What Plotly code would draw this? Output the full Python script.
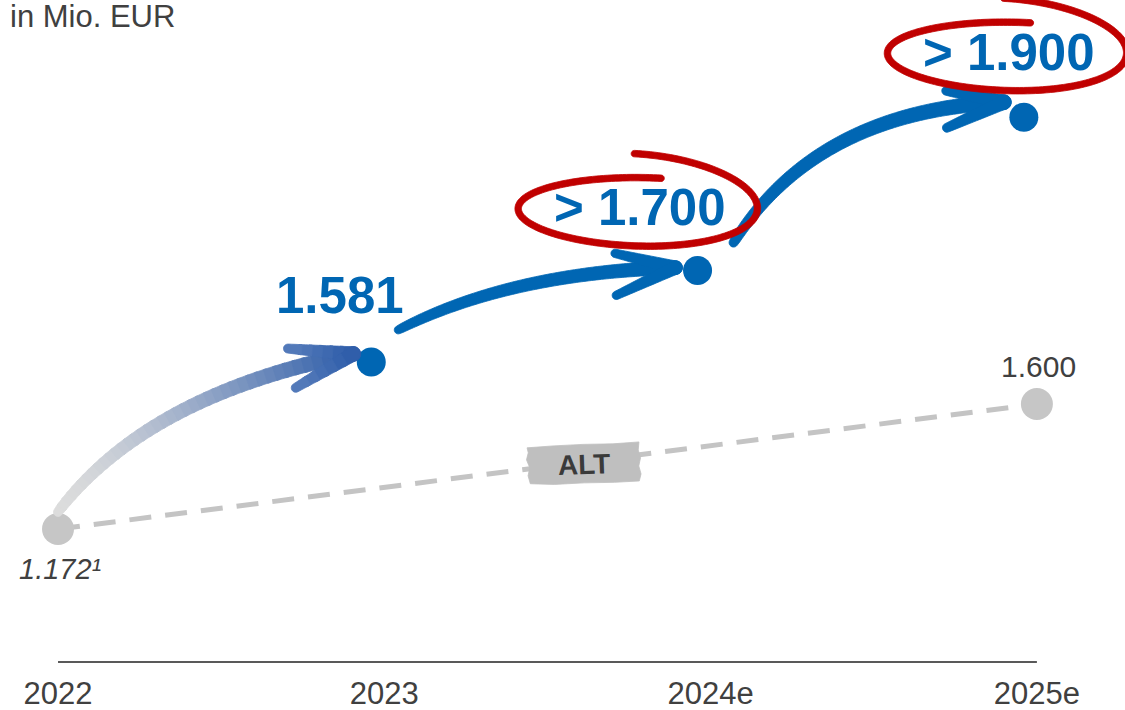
import numpy as np
import plotly.graph_objects as go

# ---- data -------------------------------------------------------------
years = ["2022", "2023", "2024e", "2025e"]

new_years = ["2023", "2024e", "2025e"]
new_values = [1581, 1700, 1900]
new_labels = ["1.581", "> 1.700", "> 1.900"]

old_years = ["2022", "2025e"]
old_values = [1172, 1600]
old_labels = ["1.172¹", "1.600"]

unit_label = "in Mio. EUR"
old_tag = "ALT"

# ---- page geometry / scales ------------------------------------------
W, H, B = 1125, 710, 48
PH = H - B
XR = [-0.1778, 3.2700]          # category index range
XR_NEW = [XR[0] + 0.04, XR[1] + 0.04]   # target markers sit a touch left of the ticks
Y_OLD = [716.6, 2983.3]         # scale for the old plan
Y_NEW = [1189.9, 2052.7]        # scale for the new targets

BLUE = "#0066b3"
RED = "#c00000"
GREY_DOT = "#c6c6c6"
TEXT = "#404040"
FONT = "Arial, Liberation Sans, sans-serif"


def px_x(cat, r=XR):
    return (years.index(cat) - r[0]) / (r[1] - r[0]) * W


def px_y(v, r):
    return PH * (1 - (v - r[0]) / (r[1] - r[0]))


def path_of(pts):
    return "M " + " L ".join(f"{x / W:.5f},{1 - y / PH:.5f}" for x, y in pts) + " Z"


def bezier(p0, p1, p2, n=120):
    t = np.linspace(0, 1, n)[:, None]
    p0, p1, p2 = map(np.asarray, (p0, p1, p2))
    return (1 - t) ** 2 * p0 + 2 * (1 - t) * t * p1 + t ** 2 * p2


def stroke(center, widths, cap_start=True, cap_end=True):
    c = np.asarray(center, float)
    w = np.asarray(widths, float)
    d = np.gradient(c, axis=0)
    d /= np.linalg.norm(d, axis=1)[:, None]
    nrm = np.stack([-d[:, 1], d[:, 0]], axis=1)
    left = c + nrm * w[:, None] / 2
    right = c - nrm * w[:, None] / 2
    pts = list(left)
    if cap_end:
        a0 = np.arctan2(nrm[-1, 1], nrm[-1, 0])
        for a in np.linspace(0, np.pi, 11)[1:-1]:
            pts.append(c[-1] + w[-1] / 2 * np.array([np.cos(a0 - a), np.sin(a0 - a)]))
    pts += list(right[::-1])
    if cap_start:
        a0 = np.arctan2(-nrm[0, 1], -nrm[0, 0])
        for a in np.linspace(0, np.pi, 11)[1:-1]:
            pts.append(c[0] + w[0] / 2 * np.array([np.cos(a0 - a), np.sin(a0 - a)]))
    return pts


def hex_mix(c0, c1, s):
    a = np.array([int(c0[i:i + 2], 16) for i in (1, 3, 5)])
    b = np.array([int(c1[i:i + 2], 16) for i in (1, 3, 5)])
    m = np.round(a + (b - a) * s).astype(int)
    return "#%02x%02x%02x" % tuple(m)


shapes = []


def add_poly(pts, color):
    shapes.append(dict(type="path", xref="paper", yref="paper", path=path_of(pts),
                       fillcolor=color, line=dict(color=color, width=0.8), layer="above"))


def add_stroke(center, widths, color):
    add_poly(stroke(center, widths), color)


def add_grad_stroke(center, widths, c0, c1, nseg=40, gamma=1.0):
    n = len(center)
    idx = np.linspace(0, n - 1, nseg + 1).astype(int)
    for k in range(nseg):
        a, b = idx[k], min(idx[k + 1] + 1, n - 1)
        s = ((k + 0.5) / nseg) ** gamma
        add_poly(stroke(center[a:b + 1], widths[a:b + 1],
                        cap_start=(k == 0), cap_end=(k == nseg - 1)),
                 hex_mix(c0, c1, s))


def arrow(p0, tip, ctrl_frac, w0, w1, color, arms, color_end=None):
    p0, tip = np.asarray(p0, float), np.asarray(tip, float)
    ctrl = p0 + np.asarray(ctrl_frac) * (tip - p0)
    pts = bezier(p0, ctrl, tip)
    t = np.linspace(0, 1, len(pts))
    widths = w0 + (w1 - w0) * np.sqrt(t)
    if color_end is None:
        add_stroke(pts, widths, color)
    else:
        add_grad_stroke(pts, widths, color, color_end, gamma=1.7)
    u = tip - ctrl
    u /= np.linalg.norm(u)
    nv = np.array([-u[1], u[0]])
    head_col = color if color_end is None else color_end
    for along, perp in arms:
        end = tip + along * u + perp * nv
        seg = np.linspace(tip, end, 20)
        aw = np.linspace(w1 * 0.95, w1 * 0.6, 20)
        if color_end is None:
            add_stroke(seg, aw, head_col)
        else:
            add_grad_stroke(seg, aw, color_end, hex_mix(color_end, "#ffffff", 0.2), nseg=6)


def spiral(cx, cy, rx0, rx1, ry0, ry1, th0, th1, n=200):
    tau = np.linspace(0, 1, n)
    th = np.radians(th0 + (th1 - th0) * tau)
    rx = rx0 + (rx1 - rx0) * tau ** 2
    ry = ry0 + (ry1 - ry0) * tau ** 2
    return np.stack([cx + rx * np.cos(th), cy + ry * np.sin(th)], axis=1)


# ---- pixel positions of the points -------------------------------------
g0 = np.array([px_x(old_years[0]), px_y(old_values[0], Y_OLD)])
g1 = np.array([px_x(old_years[1]), px_y(old_values[1], Y_OLD)])
b = [np.array([px_x(c, XR_NEW), px_y(v, Y_NEW)]) for c, v in zip(new_years, new_values)]

# ---- curved arrows ----------------------------------------------------
arrow(g0 + (0, -17), b[0] + (-18, -8), (0.30, 0.74), 9, 15, "#dcdcdc",
      [(-63, -18), (-63, 22)], color_end="#2c5ba9")
arrow(b[0] + (27, -32), b[1] + (-22, -3), (0.405, 0.923), 8, 14, BLUE,
      [(-60, -16), (-60, 26)])
arrow(b[1] + (36, -28), b[2] + (-20, -15), (0.308, 0.94), 9, 15, BLUE,
      [(-57, -14), (-58, 23)])

# ---- label offsets (px, screen) for the new targets --------------------
label_off = [(-31, -64), (-58, -61), (-15, -63)]

# hand-drawn red rings around the two forecast labels
for k in (1, 2):
    lc = b[k] + np.array(label_off[k])
    cx, cy = lc + (-3, -1)
    ring = spiral(cx, cy, 118, 123, 31, 55, -78, -451)
    add_stroke(ring, np.full(len(ring), 6.5), RED)

# ---- "ALT" tag on the old line -----------------------------------------
tag_c = g0 + 0.537 * (g1 - g0) + (0, 2)
local = [(-56, -18), (-30, -19), (0, -19.5), (30, -19), (56, -20),
         (55, -12), (57, -4), (55, 4), (57, 12), (55, 19),
         (30, 19.5), (0, 19), (-30, 19.5), (-54, 18),
         (-56, 10), (-54, 2), (-57, -6), (-55, -13)]
phi = np.radians(-2)
tag_pts = [(tag_c[0] + x * np.cos(phi) - y * np.sin(phi),
            tag_c[1] + x * np.sin(phi) + y * np.cos(phi)) for x, y in local]
add_poly(tag_pts, "#bfbfbf")

# baseline
shapes.insert(0, dict(type="line", xref="x", yref="paper", x0=0, x1=3, y0=0, y1=0,
                      line=dict(color="#595959", width=2), layer="above"))

# ---- traces ----------------------------------------------------------
fig = go.Figure()
fig.add_trace(go.Scatter(
    x=old_years, y=old_values, xaxis="x", yaxis="y", mode="lines+markers",
    line=dict(color="#c4c4c4", width=5, dash="22px,14px"),
    marker=dict(size=32, color=GREY_DOT), hoverinfo="skip"))
fig.add_trace(go.Scatter(
    x=new_years, y=new_values, xaxis="x2", yaxis="y2", mode="markers",
    marker=dict(size=29, color=BLUE), hoverinfo="skip"))

annotations = []
for cat, v, txt, (dx, dy) in zip(new_years, new_values, new_labels, label_off):
    annotations.append(dict(x=years.index(cat), y=v, xref="x2", yref="y2",
                            text=txt, showarrow=False,
                            xanchor="center", yanchor="middle",
                            xshift=dx, yshift=-dy + 2,
                            font=dict(family=FONT, size=51, color=BLUE, weight="bold")))
old_off = [(2, 42, 29), (2, -36, 30)]
old_style = ["italic", "normal"]
for cat, v, txt, (dx, dy, fs), st in zip(old_years, old_values, old_labels, old_off, old_style):
    annotations.append(dict(x=years.index(cat), y=v, xref="x", yref="y", text=txt,
                            showarrow=False, xanchor="center", yanchor="middle",
                            xshift=dx, yshift=-dy + 2,
                            font=dict(family=FONT, size=fs, color=TEXT, style=st)))
annotations.append(dict(x=tag_c[0] / W, y=1 - (tag_c[1] + 1) / PH, xref="paper", yref="paper",
                        xanchor="center", yanchor="middle",
                        text=old_tag, showarrow=False, textangle=-2,
                        font=dict(family=FONT, size=28, color="#3a3a3a", weight="bold")))
annotations.append(dict(x=8 / W, y=1 - 17 / PH, xref="paper", yref="paper",
                        xanchor="left", yanchor="middle", text=unit_label, showarrow=False,
                        font=dict(family=FONT, size=31, color=TEXT)))

fig.update_layout(
    width=W, height=H, autosize=False,
    margin=dict(l=0, r=0, t=0, b=B, pad=0),
    paper_bgcolor="white", plot_bgcolor="white",
    showlegend=False,
    xaxis=dict(type="category", categoryarray=years, range=XR,
               showgrid=False, zeroline=False, showline=False, ticks="",
               tickfont=dict(family=FONT, size=31, color=TEXT), ticklabelstandoff=10),
    xaxis2=dict(type="category", categoryarray=years, range=XR_NEW,
                overlaying="x", visible=False),
    yaxis=dict(range=Y_OLD, visible=False),
    yaxis2=dict(range=Y_NEW, visible=False, overlaying="y"),
    shapes=shapes,
    annotations=annotations,
)

fig.write_html("out.html")
